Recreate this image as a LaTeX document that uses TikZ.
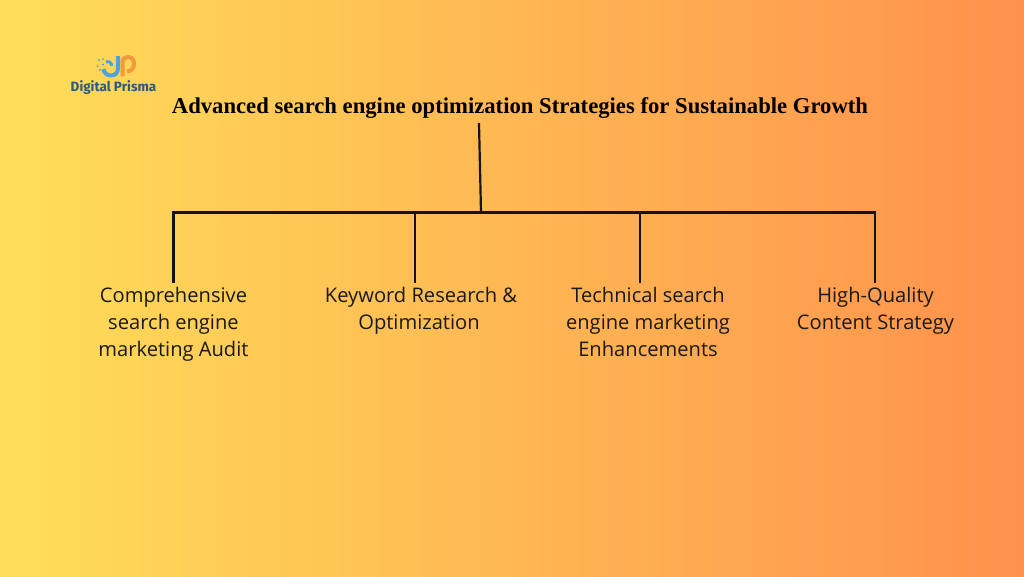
\documentclass[tikz,border=0pt]{standalone}
\usepackage{fontspec}
\setmainfont{Open Sans}
\newfontfamily\titlefont{Liberation Serif}
\newfontfamily\logofont{Fira Sans}
\definecolor{gradL}{HTML}{FFDE59}
\definecolor{gradR}{HTML}{FF914D}
\definecolor{logoblue}{HTML}{2A5A80}
\definecolor{logosky}{HTML}{4FA3DC}
\definecolor{logoorange}{HTML}{F09A3E}
\tikzset{
  label/.style={align=center,font=\fontsize{15.1pt}{20.4pt}\selectfont,text=black!90,inner sep=0pt,anchor=north},
  wire/.style={draw=black!92,line width=1.65pt},
  headline/.style={font=\titlefont\bfseries\fontsize{17pt}{20pt}\selectfont,text=black,inner sep=0pt}
}
\begin{document}
\begin{tikzpicture}[x=0.75pt,y=-0.75pt]
\useasboundingbox (0,0) rectangle (1024,576);
\shade[left color=gradL,right color=gradR,shading angle=90] (0,0) rectangle (1024,576);
% logo
\draw[logosky,line width=3pt] (118,56) -- (118,68) .. controls (118,73) and (115,75.5) .. (111,75.5) .. controls (107,75.5) and (104,73) .. (103.5,69);
\draw[logosky,line width=2.2pt] (106,62) .. controls (109,60.5) and (112,63) .. (111.5,66);
\fill[logosky] (99,60) circle (1.1) (103,64.5) circle (1.2) (97.5,66) circle (1) (103,59) circle (1) (100,70) circle (1.1);
\draw[logoorange,line width=3pt] (122.5,76) -- (122.5,63) .. controls (122.5,58.5) and (125,57) .. (128,57) .. controls (132,57) and (134,60) .. (134,64) .. controls (134,68) and (131.5,71) .. (127,71.5);
\node[font=\logofont\bfseries\fontsize{10.1pt}{11pt}\selectfont,text=logoblue,inner sep=0pt] (brand) at (113.5,88) {Digital Prisma};
% title
\node[headline] (title) at (520,108) {Advanced search engine optimization Strategies for Sustainable Growth};
% labels
\node[label] (a) at (173.5,287) {Comprehensive\\search engine\\marketing Audit};
\node[label] (b) at (421,287) {Keyword Research \&\\Optimization\kern3pt};
\node[label] (c) at (648,287) {Technical search\\engine marketing\\Enhancements};
\node[label] (d) at (875.5,287) {High-Quality\\Content Strategy};
% connectors
\coordinate (top) at (479,123);
\coordinate (hub) at (481,212.5);
\coordinate (ja) at (173.5,212.5);
\coordinate (jb) at (415,212.5);
\coordinate (jc) at (640,212.5);
\coordinate (jd) at (875,212.5);
\coordinate (ea) at (173.5,283);
\coordinate (eb) at (415,283);
\coordinate (ec) at (640,283);
\coordinate (ed) at (875,283);
\draw[wire] (top) -- (hub);
\draw[wire,line cap=rect] (ja) -- (jd);
\draw[wire] (ja) -- (ea);
\draw[wire] (jb) -- (eb);
\draw[wire] (jc) -- (ec);
\draw[wire] (jd) -- (ed);
\end{tikzpicture}
\end{document}
